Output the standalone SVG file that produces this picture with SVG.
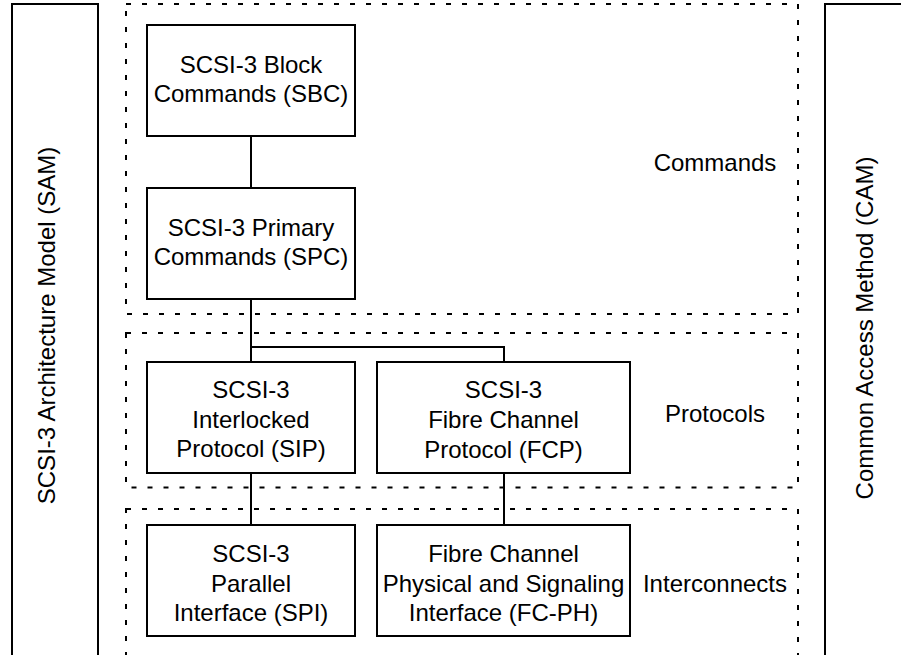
<svg xmlns="http://www.w3.org/2000/svg" width="901" height="655" viewBox="0 0 901 655">
<style>
text{font-family:"Liberation Sans",Arial,sans-serif;font-size:24px;fill:#000;text-anchor:middle}
.box{fill:#fff;stroke:#000;stroke-width:2}
.grp{fill:none;stroke:#000;stroke-width:2;stroke-dasharray:5 11}
.con{fill:none;stroke:#000;stroke-width:2}
</style>
<rect width="901" height="655" fill="#fff"/>
<g id="sam">
<rect class="box" x="12" y="4" width="86" height="680"/>
<text transform="translate(55,325.5) rotate(-90)">SCSI-3 Architecture Model (SAM)</text>
</g>
<g id="cam">
<rect class="box" x="825" y="4" width="120" height="680"/>
<text transform="translate(873,328) rotate(-90)">Common Access Method (CAM)</text>
</g>
<g id="commands">
<rect class="grp" x="126" y="4" width="672" height="310"/>
<text x="715" y="171">Commands</text>
</g>
<g id="protocols">
<rect class="grp" x="126" y="333" width="672" height="154.5"/>
<text x="715" y="422">Protocols</text>
</g>
<g id="interconnects">
<rect class="grp" x="126" y="509" width="672" height="170"/>
<text x="715" y="592">Interconnects</text>
</g>
<g id="connectors">
<path class="con" d="M251 136V188M251 299V362M251 347H504V362M251 473V525M504 473V525"/>
</g>
<g id="sbc">
<rect class="box" x="147" y="25" width="208" height="111"/>
<text x="251" y="72.7">SCSI-3 Block</text>
<text x="251" y="101.7">Commands (SBC)</text>
</g>
<g id="spc">
<rect class="box" x="147" y="188" width="208" height="111"/>
<text x="251" y="235.7">SCSI-3 Primary</text>
<text x="251" y="264.7">Commands (SPC)</text>
</g>
<g id="sip">
<rect class="box" x="147" y="362" width="208" height="111"/>
<text x="251" y="398.3">SCSI-3</text>
<text x="251" y="427.7">Interlocked</text>
<text x="251" y="457.3">Protocol (SIP)</text>
</g>
<g id="fcp">
<rect class="box" x="377" y="362" width="253" height="111"/>
<text x="503.5" y="398.3">SCSI-3</text>
<text x="503.5" y="428.3">Fibre Channel</text>
<text x="503.5" y="458.3">Protocol (FCP)</text>
</g>
<g id="spi">
<rect class="box" x="147" y="525" width="208" height="111"/>
<text x="251" y="561.7">SCSI-3</text>
<text x="251" y="591.7">Parallel</text>
<text x="251" y="621">Interface (SPI)</text>
</g>
<g id="fcph">
<rect class="box" x="377" y="525" width="253" height="111"/>
<text x="503.5" y="561.7">Fibre Channel</text>
<text x="503.5" y="591.7">Physical and Signaling</text>
<text x="503.5" y="621">Interface (FC-PH)</text>
</g>
</svg>
